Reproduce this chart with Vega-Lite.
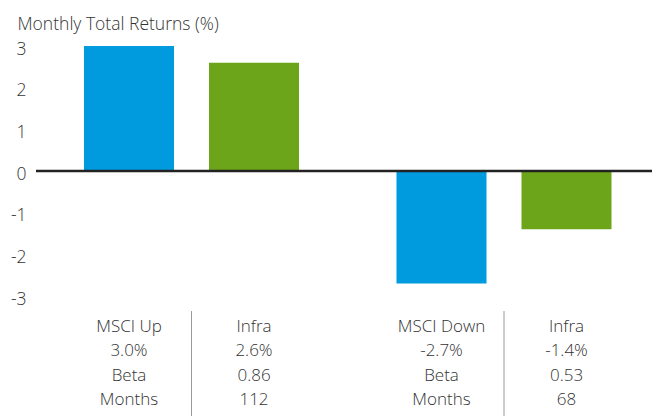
{
  "$schema": "https://vega.github.io/schema/vega-lite/v6.json",
  "width": 616,
  "height": 370,
  "autosize": {"type": "none"},
  "padding": {"left": 36, "top": 46, "right": 0, "bottom": 0},
  "background": "white",
  "config": {"view": {"stroke": null}, "font": "Open Sans"},
  "datasets": {
    "bars": [
      {"period": "Up", "series": "MSCI", "value": 3.0},
      {"period": "Up", "series": "Infra", "value": 2.6},
      {"period": "Down", "series": "MSCI", "value": -2.7},
      {"period": "Down", "series": "Infra", "value": -1.4}
    ],
    "table": [
      {"period": "Up", "series": "MSCI", "line": 1, "label": "MSCI Up"},
      {"period": "Up", "series": "MSCI", "line": 2, "label": "3.0%"},
      {"period": "Up", "series": "MSCI", "line": 3, "label": "Beta"},
      {"period": "Up", "series": "MSCI", "line": 4, "label": "Months"},
      {"period": "Up", "series": "Infra", "line": 1, "label": "Infra"},
      {"period": "Up", "series": "Infra", "line": 2, "label": "2.6%"},
      {"period": "Up", "series": "Infra", "line": 3, "label": "0.86"},
      {"period": "Up", "series": "Infra", "line": 4, "label": "112"},
      {"period": "Down", "series": "MSCI", "line": 1, "label": "MSCI Down"},
      {"period": "Down", "series": "MSCI", "line": 2, "label": "-2.7%"},
      {"period": "Down", "series": "MSCI", "line": 3, "label": "Beta"},
      {"period": "Down", "series": "MSCI", "line": 4, "label": "Months"},
      {"period": "Down", "series": "Infra", "line": 1, "label": "Infra"},
      {"period": "Down", "series": "Infra", "line": 2, "label": "-1.4%"},
      {"period": "Down", "series": "Infra", "line": 3, "label": "0.53"},
      {"period": "Down", "series": "Infra", "line": 4, "label": "68"}
    ],
    "seps": [{"period": "Up"}, {"period": "Down"}]
  },
  "resolve": {"scale": {"y": "independent"}, "axis": {"y": "independent"}},
  "layer": [
    {
      "layer": [
        {
          "data": {"name": "bars"},
          "mark": {"type": "bar"},
          "encoding": {
            "x": {"field": "period", "type": "nominal", "sort": ["Up", "Down"], "scale": {"paddingInner": 0.2, "paddingOuter": 0.0736, "range": [7.5, 616]}, "axis": null},
            "xOffset": {"field": "series", "type": "nominal", "sort": ["MSCI", "Infra"], "scale": {"paddingInner": 0.28, "paddingOuter": 0.14}},
            "y": {
              "field": "value", "type": "quantitative",
              "scale": {"domain": [-5.88, 3], "nice": false, "zero": false},
              "axis": {
                "values": [-3, -2, -1, 0, 1, 2, 3],
                "domain": false, "ticks": false, "grid": false,
                "labelPadding": 10, "labelFontSize": 17.5, "labelColor": "#333333", "labelOffset": 3, "labelFontWeight": 300,
                "labelExpr": "'' + datum.value",
                "title": "Monthly Total Returns (%)",
                "titleAngle": 0, "titleAlign": "left", "titleX": -19, "titleY": -16.5,
                "titleBaseline": "alphabetic", "titleFontSize": 17.5, "titleFontWeight": 300, "titleColor": "#333333"
              }
            },
            "color": {"field": "series", "type": "nominal", "scale": {"domain": ["MSCI", "Infra"], "range": ["#009BDE", "#6CA51A"]}, "legend": null}
          }
        },
        {
          "data": {"values": [{}]},
          "mark": {"type": "rule", "color": "#222222", "strokeWidth": 2.5},
          "encoding": {"y": {"datum": 0, "type": "quantitative"}}
        }
      ]
    },
    {
      "layer": [
        {
          "data": {"name": "table"},
          "mark": {"type": "text", "fontSize": 17, "fontWeight": 300, "color": "#333333", "baseline": "alphabetic", "align": "center"},
          "encoding": {
            "x": {"field": "period", "type": "nominal", "sort": ["Up", "Down"]},
            "xOffset": {"field": "series", "type": "nominal", "sort": ["MSCI", "Infra"]},
            "y": {"field": "line", "type": "quantitative", "scale": {"domain": [-10.72, 4.44], "reverse": true, "nice": false, "zero": false}, "axis": null},
            "text": {"field": "label"}
          }
        },
        {
          "data": {"name": "seps"},
          "mark": {"type": "rule", "color": "#9a9a9a", "strokeWidth": 1},
          "encoding": {
            "x": {"field": "period", "type": "nominal", "sort": ["Up", "Down"]},
            "y": {"datum": 0.14, "type": "quantitative"},
            "y2": {"datum": 4.44}
          }
        }
      ]
    }
  ]
}
